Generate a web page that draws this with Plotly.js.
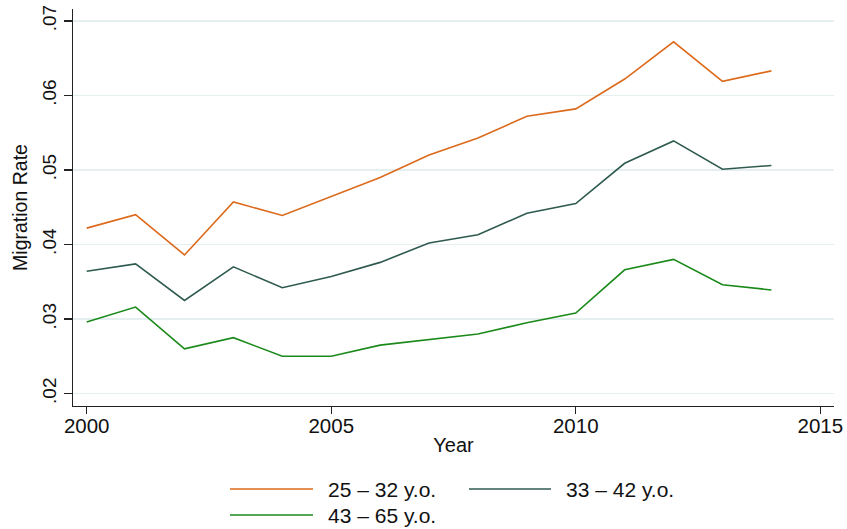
<!DOCTYPE html>
<html>
<head>
<meta charset="utf-8">
<script src="https://cdn.plot.ly/plotly-3.0.1.min.js"></script>
<style>
html,body{margin:0;padding:0;background:#fff;}
#chart{width:847px;height:529px;}
</style>
</head>
<body>
<div id="chart"></div>
<script>
const years = [2000,2001,2002,2003,2004,2005,2006,2007,2008,2009,2010,2011,2012,2013,2014];
const rate25_32 = [0.0422,0.0440,0.0386,0.0457,0.0439,0.0465,0.0490,0.0520,0.0543,0.0572,0.0582,0.0622,0.0672,0.0619,0.0633];
const rate33_42 = [0.0364,0.0374,0.0325,0.0370,0.0342,0.0357,0.0376,0.0402,0.0413,0.0442,0.0455,0.0509,0.0539,0.0501,0.0506];
const rate43_65 = [0.0296,0.0316,0.0260,0.0275,0.0250,0.0250,0.0265,0.0273,0.0280,0.0295,0.0308,0.0366,0.0380,0.0346,0.0339];
const seriesNames = ['25 \u2013 32 y.o.','33 \u2013 42 y.o.','43 \u2013 65 y.o.'];
const yTickVals = [0.02,0.03,0.04,0.05,0.06,0.07];
const yTickText = ['.02','.03','.04','.05','.06','.07'];
const xTickVals = [2000,2005,2010,2015];

const colors = ['#dc6a1c','#2f5a50','#1b8a1b'];
const W = 847, H = 529;
const M = {l:73, r:13, t:9, b:123};
const pw = W - M.l - M.r, ph = H - M.t - M.b;
const font = 'Liberation Sans, Arial, Helvetica, sans-serif';

const series = [rate25_32, rate33_42, rate43_65];
const traces = series.map((vals,i)=>({
  x: years, y: vals, type:'scatter', mode:'lines', name: seriesNames[i],
  line:{color:colors[i], width:1.6}, showlegend:false, hoverinfo:'skip'
}));

// manual legend (Stata-style long line samples)
const px2x = p => (p - M.l)/pw;
const py2y = p => (H - M.b - p)/ph;
const legendPos = [
  {lx0:230, lx1:313, tx:326, y:489},
  {lx0:469, lx1:551, tx:564, y:489},
  {lx0:230, lx1:313, tx:326, y:515}
];
const shapes = [], annotations = [];
legendPos.forEach((p,i)=>{
  shapes.push({type:'line', xref:'paper', yref:'paper',
    x0:px2x(p.lx0), x1:px2x(p.lx1), y0:py2y(p.y), y1:py2y(p.y),
    line:{color:colors[i], width:1.6}});
  annotations.push({xref:'paper', yref:'paper', x:px2x(p.tx), y:py2y(p.y),
    xanchor:'left', yanchor:'middle', text:seriesNames[i], showarrow:false,
    font:{family:font, size:21, color:'#111'}});
});

const layout = {
  width:W, height:H, margin:M,
  paper_bgcolor:'#fff', plot_bgcolor:'#fff',
  showlegend:false,
  font:{family:font, color:'#111'},
  xaxis:{
    range:[1999.72, 2015.28], tickvals:xTickVals, ticks:'outside', ticklen:7,
    tickcolor:'#222', tickwidth:1.2, showline:true, linecolor:'#222', linewidth:1.3,
    showgrid:false, zeroline:false, tickfont:{size:20.5, family:font, color:'#111'},
    ticklabelstandoff:-6,
    title:{text:'Year', font:{size:20, family:font, color:'#111'}, standoff:2}
  },
  yaxis:{
    range:[0.01833, 0.0716], tickvals:yTickVals, ticktext:yTickText, ticks:'outside',
    ticklen:8, tickcolor:'#222', tickwidth:1.2, showline:true, linecolor:'#222', linewidth:1.3,
    showgrid:true, gridcolor:'#e6eff0', gridwidth:1.3, zeroline:false,
    tickangle:-90, tickfont:{size:19, family:font, color:'#111'},
    title:{text:'Migration Rate', font:{size:19.5, family:font, color:'#111'}, standoff:6}
  },
  shapes:shapes, annotations:annotations
};

Plotly.newPlot('chart', traces, layout, {staticPlot:true, displayModeBar:false});
</script>
</body>
</html>
